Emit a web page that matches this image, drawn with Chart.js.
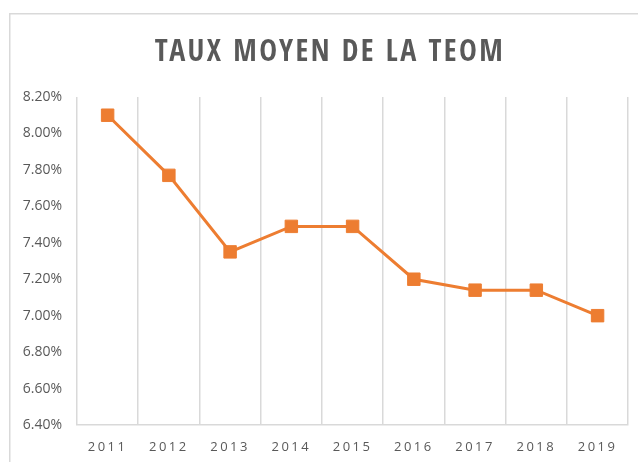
<!DOCTYPE html>
<html>
<head>
<meta charset="utf-8">
<script src="https://cdn.jsdelivr.net/npm/chart.js@4/dist/chart.umd.min.js"></script>
<style>
  html, body { margin: 0; padding: 0; background: #ffffff; }
  #wrap { width: 638px; height: 462px; position: relative; }
</style>
</head>
<body>
<div id="wrap"><canvas id="c" width="638" height="462"></canvas></div>
<script>
const years = ['2011', '2012', '2013', '2014', '2015', '2016', '2017', '2018', '2019'];
const tauxMoyen = [8.10, 7.77, 7.35, 7.49, 7.49, 7.20, 7.14, 7.14, 7.00];
const yMin = 6.40;
const yMax = 8.20;
const yStep = 0.20;
const titleText = 'TAUX MOYEN DE LA TEOM';

const frame = {
  id: 'frame',
  beforeDraw(chart) {
    const ctx = chart.ctx;
    ctx.save();
    ctx.fillStyle = '#ffffff';
    ctx.fillRect(0, 0, chart.width, chart.height);
    ctx.strokeStyle = '#d9d9d9';
    ctx.lineWidth = 1.5;
    ctx.strokeRect(9.75, 13.75, 700, 500);
    ctx.restore();
  },
  afterUpdate(chart) {
    const xs = chart.scales.x;
    if (xs && !xs._wrapped) {
      const orig = xs.drawLabels;
      xs.drawLabels = function (area) {
        const ctx = this.ctx;
        ctx.save();
        ctx.letterSpacing = '2.5px';
        orig.call(this, area);
        ctx.restore();
      };
      xs._wrapped = true;
    }
    const tb = chart.titleBlock;
    if (tb && !tb._wrapped) {
      const origT = tb.draw;
      tb.draw = function () {
        const ctx = this.ctx;
        ctx.save();
        ctx.letterSpacing = '2.4px';
        ctx.translate(14, 0);
        origT.call(this);
        ctx.restore();
      };
      tb._wrapped = true;
    }
  }
};

new Chart(document.getElementById('c'), {
  type: 'line',
  data: {
    labels: years,
    datasets: [{
      data: tauxMoyen,
      borderColor: '#ED7D31',
      backgroundColor: '#ED7D31',
      borderWidth: 3,
      pointStyle: 'rect',
      pointRadius: 8.8,
      pointBorderWidth: 1,
      pointBorderColor: '#ED7D31',
      pointBackgroundColor: '#ED7D31',
      tension: 0,
      fill: false
    }]
  },
  options: {
    responsive: false,
    animation: false,
    devicePixelRatio: 1,
    layout: { padding: { left: 0, right: 6, top: 0, bottom: 0 } },
    plugins: {
      legend: { display: false },
      tooltip: { enabled: false },
      title: {
        display: true,
        text: titleText,
        color: '#595959',
        font: { family: '"Liberation Sans Narrow", "Open Sans Condensed", Lato', size: 30, weight: 'bold' },
        padding: { top: 35, bottom: 26 },
        align: 'center'
      }
    },
    scales: {
      x: {
        offset: true,
        grid: { display: true, offset: true, color: '#d9d9d9', lineWidth: 1.5, drawTicks: false },
        border: { display: true, color: '#d9d9d9', width: 1.5 },
        ticks: {
          color: '#595959',
          font: { family: 'Open Sans', size: 13 },
          padding: 14,
          maxRotation: 0,
          autoSkip: false
        },
        afterFit(s) { s.height = 37; }
      },
      y: {
        min: yMin,
        max: yMax,
        grid: { display: false, drawTicks: false },
        border: { display: false },
        ticks: {
          stepSize: yStep,
          color: '#595959',
          font: { family: 'Open Sans', size: 14 },
          padding: 15,
          callback: v => v.toFixed(2) + '%'
        },
        afterFit(s) { s.width = 77; }
      }
    }
  },
  plugins: [frame]
});
</script>
</body>
</html>
